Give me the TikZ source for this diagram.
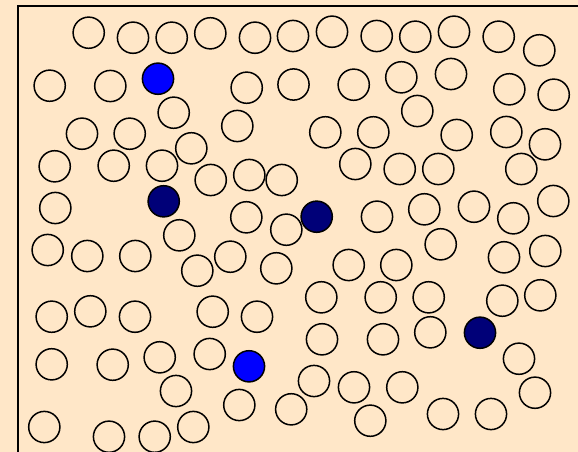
\documentclass[tikz,border=0pt]{standalone}
\definecolor{bg}{RGB}{255,231,200}
\definecolor{navyc}{RGB}{0,0,120}
\definecolor{bluec}{RGB}{0,0,255}
\tikzset{
  ball/.style={circle,draw=black,line width=1.5pt,minimum size=31.2pt,inner sep=0pt,fill=bg},
  navyball/.style={ball,fill=navyc},
  blueball/.style={ball,fill=bluec},
  frame/.style={draw=black,line width=2pt}
}
\begin{document}
\begin{tikzpicture}[x=1pt,y=-1pt]
\fill[bg] (0,0) rectangle (578,452);
\useasboundingbox (0,0) rectangle (578,452);
\clip (0,0) rectangle (578,452);
\draw[frame] (18,6) rectangle (600,480);
\foreach \x/\y [count=\i] in {
88.7/32.7,133/37.7,171.7/37.7,210.3/33.3,255/37.7,293/36,332/31.7,376.7/36,415.3/36.7,454/31.7,498.7/36.7,539.3/50.3,
49.7/85.7,110.3/86,246.7/87.7,293.5/84.5,353.7/84.7,401.3/77.3,451/74,509.3/89.3,553.7/94.7,
173.7/112.7,237.3/126,417.3/111,
82/133.7,129.7/133.7,325.3/132.3,373.3/132.3,456.7/135,506.3/132,545/144.3,
54.7/166.3,113.7/165.7,162/165.7,191.3/148.3,210.7/180,249.3/175,281.7/180,355.3/164,399.7/169,438.3/169,521.3/169,
55.3/208,246.3/217.3,286.3/229.7,377/216.7,424.3/209.3,474/206.7,513.3/218.3,553.3/201,
47.7/250,87.3/256,135.3/256,179.3/235.3,197.3/270.7,230.3/256.7,276.3/268.3,348.7/265,396.3/265,440.7/244.3,504/257.3,545.3/251,
51.7/316.7,90.3/311.3,135/316.7,212.7/311.7,257/316.7,321.3/297.3,380.7/297.3,428.7/297.3,502.3/300.7,540.3/295.3,
51.7/364.3,112.7/364.7,159.7/357.3,209.7/354,322/339.3,383/339.3,430.3/332.3,519/358.7,
176/391,239.3/405,314/381,354/387.3,402.3/387.3,535/392.7,
44.3/427,109/436.7,154.7/436.7,193.3/427,291.2/409.3,370.3/420.7,443/414,491/414}
  \node[ball] (c\i) at (\x,\y) {};
\node[blueball] (b1) at (158,78.7) {};
\node[blueball] (b2) at (249,366.3) {};
\node[navyball] (n1) at (163.7,201.3) {};
\node[navyball] (n2) at (316.7,216.7) {};
\node[navyball] (n3) at (480,332.7) {};
\end{tikzpicture}
\end{document}
